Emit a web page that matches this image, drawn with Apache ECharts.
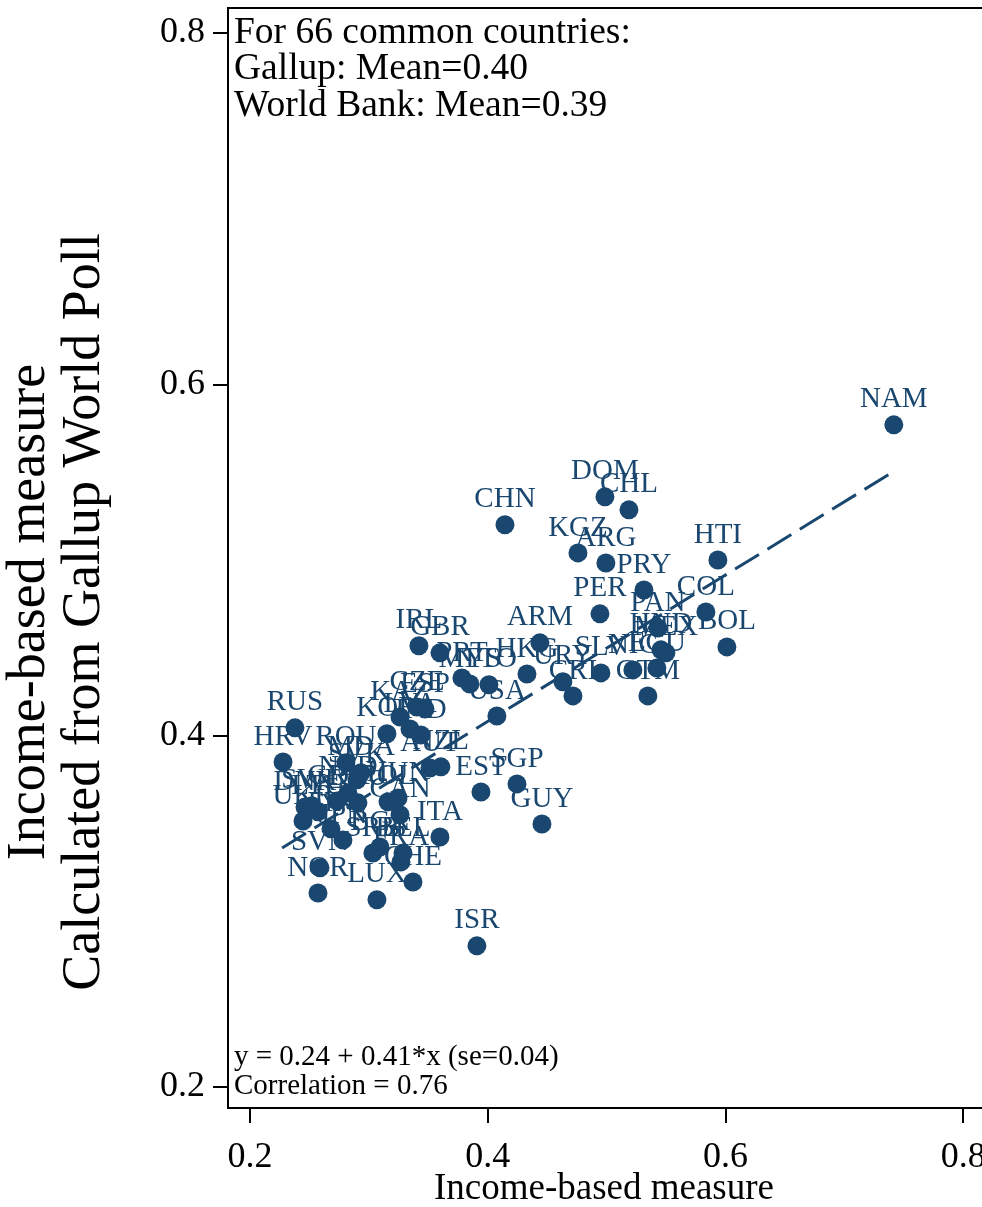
<!DOCTYPE html>
<html>
<head>
<meta charset="utf-8">
<script src="https://cdn.jsdelivr.net/npm/echarts@6/dist/echarts.min.js"></script>
<style>html,body{margin:0;padding:0;background:#fff}#c{width:982px;height:1207px}</style>
</head>
<body>
<div id="c"></div>
<script>
var countries = ["NAM","DOM","CHL","CHN","KGZ","ARG","HTI","PRY","PER","COL","BOL","PAN","MEX","ECU","NIC","SLV","GTM","CRI","URY","ARM","HKG","PRT","MYS","TTO","USA","IRL","GBR","KAZ","CZE","ESP","KOR","LVA","IND","AUT","NZL","EST","SGP","GUY","ISR","ITA","ROU","SVK","DNK","POL","HUN","CAN","UKR","LTU","NLD","DEU","FIN","JPN","SRB","BGR","BEL","FRA","SVN","NOR","LUX","CHE","RUS","HRV","HND","SWE","GRC","MDA"];
var incomeX = [0.7416,0.4986,0.5188,0.4145,0.4759,0.4994,0.5936,0.5314,0.4944,0.5835,0.6012,0.5431,0.5499,0.5423,0.5221,0.4952,0.5347,0.4717,0.4632,0.4439,0.4330,0.3783,0.3850,0.4010,0.4077,0.3421,0.3598,0.3262,0.3405,0.3472,0.3152,0.3346,0.3438,0.3514,0.3606,0.3943,0.4246,0.4456,0.3909,0.3598,0.2807,0.2900,0.2463,0.3161,0.3245,0.3262,0.2446,0.2572,0.2824,0.2908,0.2681,0.2782,0.3034,0.3093,0.3287,0.3270,0.2589,0.2572,0.3068,0.3371,0.2378,0.2278,0.5457,0.2521,0.2732,0.2934];
var gallupY = [0.5769,0.5359,0.5285,0.5200,0.5040,0.4983,0.5000,0.4829,0.4693,0.4704,0.4505,0.4613,0.4471,0.4385,0.4374,0.4357,0.4226,0.4226,0.4306,0.4528,0.4351,0.4328,0.4294,0.4289,0.4112,0.4511,0.4471,0.4106,0.4163,0.4152,0.4010,0.4038,0.4004,0.3816,0.3822,0.3679,0.3725,0.3497,0.2803,0.3423,0.3845,0.3748,0.3594,0.3623,0.3645,0.3549,0.3514,0.3566,0.3674,0.3617,0.3469,0.3406,0.3332,0.3366,0.3332,0.3281,0.3247,0.3104,0.3065,0.3167,0.4044,0.3850,0.4488,0.3600,0.3628,0.3788];
var fitLine = [[0.227,0.336],[0.743,0.551]];
var xTicks = [0.2,0.4,0.6,0.8];
var yTicks = [0.2,0.4,0.6,0.8];
var noteTop = "For 66 common countries:\nGallup: Mean=0.40\nWorld Bank: Mean=0.39";
var noteBottom = "y = 0.24 + 0.41*x (se=0.04)\nCorrelation = 0.76";
var xTitle = "Income-based measure";
var yTitle = "Income-based measure\nCalculated from Gallup World Poll";

var NAVY = '#1a476f';
var FONT = '"Liberation Serif","Times New Roman",serif';
var chart = echarts.init(document.getElementById('c'), null, {renderer:'canvas'});
var pts = countries.map(function(c,i){return {name:c, value:[incomeX[i], gallupY[i]]};});
chart.setOption({
  animation:false,
  backgroundColor:'#fff',
  grid:{left:228, top:8, right:-5, bottom:99, containLabel:false, outerBoundsMode:'none',
    show:true, borderColor:'#000', borderWidth:2, backgroundColor:'transparent'},
  xAxis:{type:'value', min:0.1815, max:0.82,
    axisLine:{show:true, onZero:false, lineStyle:{color:'#000', width:2}},
    axisTick:{show:true, length:15, customValues:xTicks, lineStyle:{color:'#000', width:2}},
    axisLabel:{customValues:xTicks, margin:32, color:'#000', fontFamily:FONT, fontSize:36, formatter:function(v){return v.toFixed(1);}},
    splitLine:{show:false}
  },
  yAxis:{type:'value', min:0.188, max:0.8142,
    axisLine:{show:true, onZero:false, lineStyle:{color:'#000', width:2}},
    axisTick:{show:true, length:15, customValues:yTicks, lineStyle:{color:'#000', width:2}},
    axisLabel:{customValues:yTicks, margin:23, color:'#000', fontFamily:FONT, fontSize:36, formatter:function(v){return v.toFixed(1);}},
    splitLine:{show:false}
  },
  graphic:[
    {type:'text', left:234, top:14, z:100, style:{text:noteTop, font:'37.5px '+FONT, lineHeight:36.5, fill:'#000'}},
    {type:'text', left:234, top:1043, z:100, style:{text:noteBottom, font:'29px '+FONT, lineHeight:29, fill:'#000'}},
    {type:'text', x:604, y:1189, z:100, style:{text:xTitle, font:'37px '+FONT, fill:'#000', align:'center', verticalAlign:'middle'}},
    {type:'text', x:57, y:612, rotation:Math.PI/2, z:100, style:{text:yTitle, font:'54px '+FONT, lineHeight:55, fill:'#000', align:'center', verticalAlign:'middle'}}
  ],
  series:[
    {type:'scatter', data:pts, symbol:'circle', symbolSize:19,
      itemStyle:{color:NAVY, opacity:1},
      label:{show:true, position:'top', distance:1, formatter:'{b}', color:NAVY, fontFamily:FONT, fontSize:29, lineHeight:29},
      emphasis:{disabled:true}, z:2},
    {type:'line', data:fitLine, symbol:'none', z:3,
      lineStyle:{color:NAVY, width:3, type:[28,10]}, emphasis:{disabled:true}}
  ]
});
</script>
</body>
</html>
